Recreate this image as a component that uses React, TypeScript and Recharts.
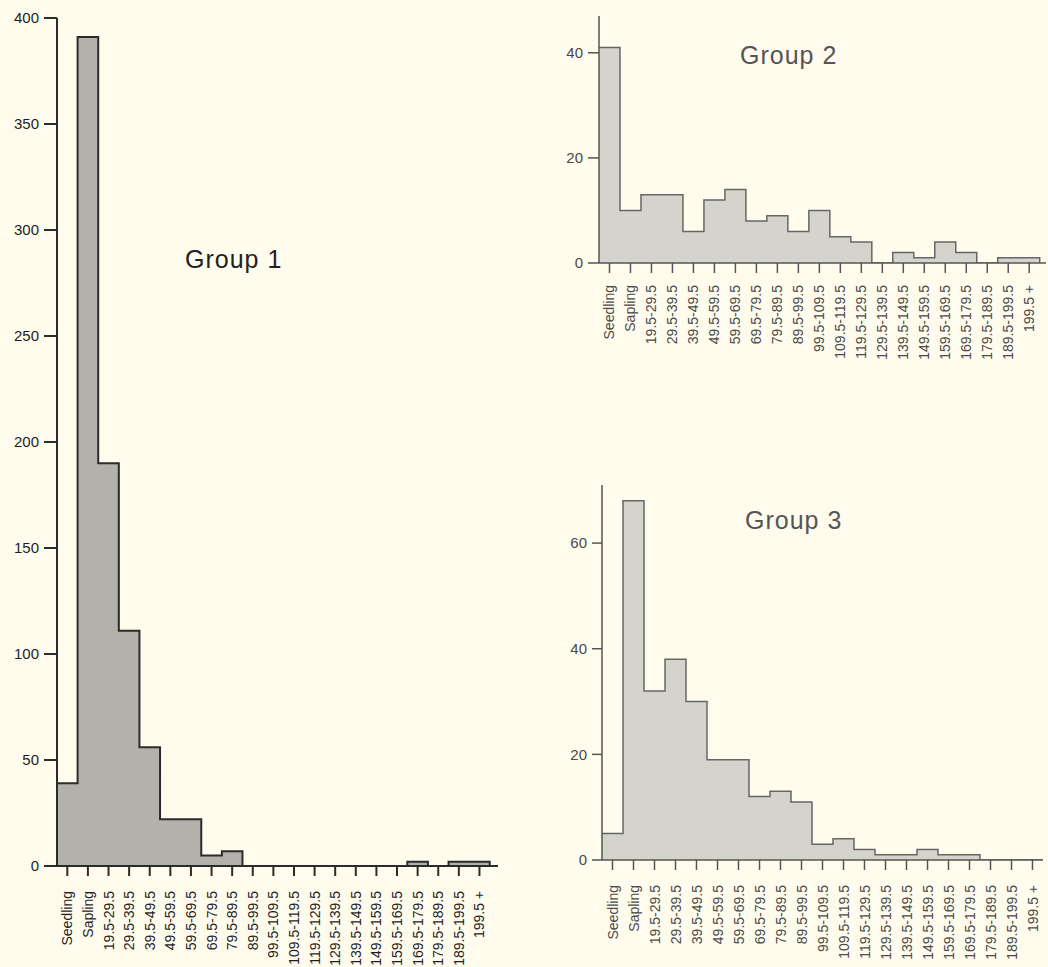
import React from "react";
import { AreaChart, Area, XAxis, YAxis } from "recharts";

// size classes (dbh, cm) along the x axis
const classes = [
  "Seedling", "Sapling", "19.5-29.5", "29.5-39.5", "39.5-49.5", "49.5-59.5",
  "59.5-69.5", "69.5-79.5", "79.5-89.5", "89.5-99.5", "99.5-109.5", "109.5-119.5",
  "119.5-129.5", "129.5-139.5", "139.5-149.5", "149.5-159.5", "159.5-169.5",
  "169.5-179.5", "179.5-189.5", "189.5-199.5", "199.5 +",
];

const group1 = [39, 391, 190, 111, 56, 22, 22, 5, 7, 0, 0, 0, 0, 0, 0, 0, 0, 2, 0, 2, 2];
const group2 = [41, 10, 13, 13, 6, 12, 14, 8, 9, 6, 10, 5, 4, 0, 2, 1, 4, 2, 0, 1, 1];
const group3 = [5, 68, 32, 38, 30, 19, 19, 12, 13, 11, 3, 4, 2, 1, 1, 2, 1, 1, 0, 0, 0];

const ticks1 = [0, 50, 100, 150, 200, 250, 300, 350, 400];
const ticks2 = [0, 20, 40];
const ticks3 = [0, 20, 40, 60];

const FONT = "'Liberation Sans', Arial, Helvetica, sans-serif";
const BG = "#fffcee";

// histogram outline: each class becomes a step starting at its left edge
const toSteps = (vals: number[]) => [
  ...vals.map((v, i) => ({ x: i - 0.5, v })),
  { x: vals.length - 0.5, v: vals[vals.length - 1] },
  { x: vals.length - 0.5, v: 0 },
];

const classIdx = classes.map((_, i) => i);

function RotTick(props: any) {
  const { x, y, payload, color } = props;
  return (
    <text
      x={x}
      y={y}
      transform={`rotate(-90, ${x}, ${y})`}
      textAnchor="end"
      dominantBaseline="central"
      fill={color}
      fontSize={14}
      fontFamily={FONT}
    >
      {classes[payload.value]}
    </text>
  );
}

type HistProps = {
  vals: number[];
  ticks: number[];
  yMax: number;
  xMax: number;
  width: number;
  height: number;
  top: number;
  yWidth: number;
  xHeight: number;
  tickLen: number;
  labelGap: number;
  fill: string;
  stroke: string;
  strokeWidth: number;
  axis: string;
  text: string;
};

function Hist(p: HistProps) {
  return (
    <AreaChart
      width={p.width}
      height={p.height}
      data={toSteps(p.vals)}
      margin={{ top: p.top, right: 2, left: 0, bottom: 0 }}
    >
      <XAxis
        dataKey="x"
        type="number"
        domain={[-0.5, p.xMax]}
        ticks={classIdx}
        interval={0}
        height={p.xHeight}
        tickSize={10}
        tickMargin={p.labelGap}
        stroke={p.axis}
        strokeWidth={p.strokeWidth}
        tick={<RotTick color={p.text} />}
      />
      <YAxis
        type="number"
        domain={[0, p.yMax]}
        ticks={p.ticks}
        width={p.yWidth}
        tickSize={p.tickLen}
        tickMargin={5}
        stroke={p.axis}
        strokeWidth={p.strokeWidth}
        tick={{ fill: p.text, fontSize: 15, fontFamily: FONT }}
        allowDataOverflow
      />
      <Area
        type="stepAfter"
        dataKey="v"
        fill={p.fill}
        fillOpacity={1}
        stroke={p.stroke}
        strokeWidth={p.strokeWidth}
        dot={false}
        activeDot={false}
        isAnimationActive={false}
      />
    </AreaChart>
  );
}

const titleStyle = (left: number, top: number, color: string): React.CSSProperties => ({
  position: "absolute",
  left,
  top,
  fontFamily: FONT,
  fontSize: 25,
  lineHeight: 1,
  letterSpacing: 1,
  color,
  whiteSpace: "nowrap",
});

export default function App() {
  return (
    <div style={{ position: "absolute", left: 0, top: 0, width: 1048, height: 967, background: BG, overflow: "hidden" }}>
      {/* Group 1 */}
      <div style={{ position: "absolute", left: 0, top: 0 }}>
        <Hist
          vals={group1} ticks={ticks1} yMax={400} xMax={20.9}
          width={500} height={967} top={18} yWidth={57} xHeight={101}
          tickLen={13} labelGap={15}
          fill="#b2b2aa" stroke="#2b2b2b" strokeWidth={2} axis="#2b2b2b" text="#1e1e1e"
        />
      </div>
      <div style={titleStyle(185, 247, "#222")}>Group 1</div>

      {/* Group 2 */}
      <div style={{ position: "absolute", left: 560, top: 0 }}>
        <Hist
          vals={group2} ticks={ticks2} yMax={47} xMax={20.8}
          width={488} height={363} top={16} yWidth={39} xHeight={100}
          tickLen={11} labelGap={12}
          fill="#d4d4cc" stroke="#666" strokeWidth={1.5} axis="#555" text="#4a4a4a"
        />
      </div>
      <div style={titleStyle(740, 43, "#555")}>Group 2</div>

      {/* Group 3 */}
      <div style={{ position: "absolute", left: 560, top: 470 }}>
        <Hist
          vals={group3} ticks={ticks3} yMax={71} xMax={20.5}
          width={485} height={490} top={15} yWidth={42} xHeight={100}
          tickLen={10} labelGap={15}
          fill="#d4d4cc" stroke="#666" strokeWidth={1.5} axis="#555" text="#4a4a4a"
        />
      </div>
      <div style={titleStyle(745, 508, "#555")}>Group 3</div>
    </div>
  );
}
